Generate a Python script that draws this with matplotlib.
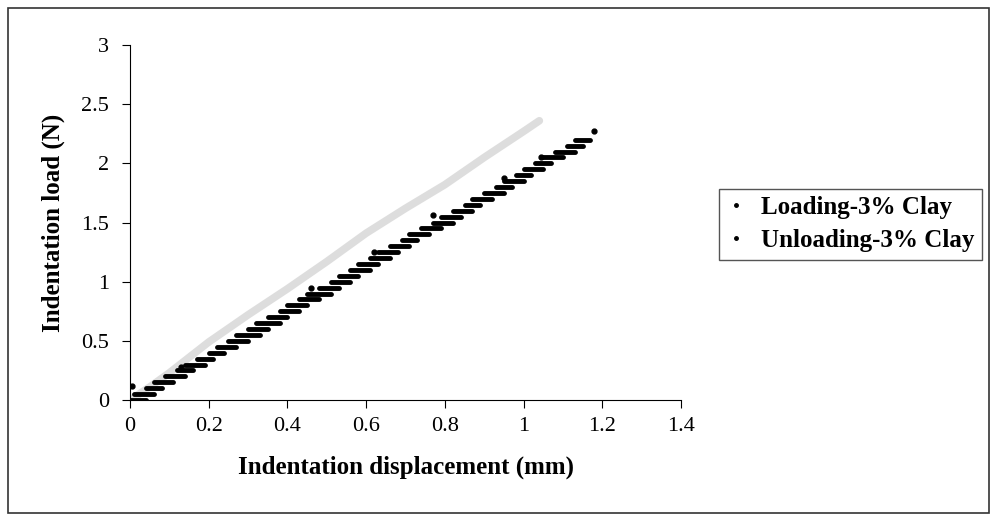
import matplotlib.pyplot as plt
from matplotlib.lines import Line2D
from matplotlib.patches import Rectangle

plt.rcParams['font.family'] = ['Liberation Serif', 'DejaVu Serif']

# Loading curve (faint grey band in the scan)
load_x = [0, 0.05, 0.1, 0.15, 0.2, 0.3, 0.4, 0.5, 0.6, 0.7, 0.8, 0.9, 1.0, 1.04]
load_y = [0, 0.11, 0.23, 0.36, 0.49, 0.72, 0.94, 1.17, 1.41, 1.62, 1.82, 2.05, 2.27, 2.36]

# Unloading data: load levels (N) with the displacement span of each step (mm)
unload_level = [0.00, 0.05, 0.10, 0.15, 0.20, 0.25, 0.30, 0.35, 0.40, 0.45,
                0.50, 0.55, 0.60, 0.65, 0.70, 0.75, 0.80, 0.85, 0.90, 0.95,
                1.00, 1.05, 1.10, 1.15, 1.20, 1.25, 1.30, 1.35, 1.40, 1.45,
                1.50, 1.55, 1.60, 1.65, 1.70, 1.75, 1.80, 1.85, 1.90, 1.95,
                2.00, 2.05, 2.10, 2.15, 2.20, 2.25]
unload_x0 = [0.00, 0.01, 0.04, 0.06, 0.09, 0.12, 0.14, 0.17, 0.20, 0.22,
             0.25, 0.27, 0.30, 0.32, 0.35, 0.38, 0.40, 0.43, 0.45, 0.48,
             0.51, 0.53, 0.56, 0.58, 0.61, 0.63, 0.66, 0.69, 0.71, 0.74,
             0.77, 0.79, 0.82, 0.85, 0.87, 0.90, 0.93, 0.95, 0.98, 1.00,
             1.03, 1.05, 1.08, 1.11, 1.13, 1.165]
unload_x1 = [0.04, 0.06, 0.08, 0.11, 0.14, 0.16, 0.19, 0.21, 0.24, 0.27,
             0.30, 0.33, 0.35, 0.38, 0.40, 0.43, 0.45, 0.48, 0.51, 0.53,
             0.56, 0.58, 0.61, 0.63, 0.66, 0.68, 0.71, 0.73, 0.76, 0.79,
             0.82, 0.84, 0.87, 0.89, 0.92, 0.95, 0.97, 1.00, 1.02, 1.05,
             1.07, 1.10, 1.13, 1.15, 1.17, 1.165]
# stray points off the steps
stray_x = [0.005, 0.13, 0.46, 0.62, 0.77, 0.95, 1.045, 1.18]
stray_y = [0.12, 0.28, 0.95, 1.25, 1.56, 1.88, 2.05, 2.27]

fig = plt.figure(figsize=(9.91, 5.21), dpi=100)
fig.patches.append(Rectangle((0.008, 0.015), 0.99, 0.97, transform=fig.transFigure,
                             fill=False, edgecolor='#333333', linewidth=1.2))

ax = fig.add_axes([0.1312, 0.2322, 0.5560, 0.6814])

ax.plot(load_x, load_y, color='#dadada', linewidth=5.5, solid_capstyle='round', alpha=0.9)

for y, x0, x1 in zip(unload_level, unload_x0, unload_x1):
    ax.plot([x0, x1], [y, y], color='black', linewidth=3.5, solid_capstyle='round')
ax.plot(stray_x, stray_y, 'o', color='black', markersize=3.5)

ax.set_xlim(0, 1.4)
ax.set_ylim(0, 3)
ax.set_xticks([0, 0.2, 0.4, 0.6, 0.8, 1, 1.2, 1.4])
ax.set_xticklabels(['0', '0.2', '0.4', '0.6', '0.8', '1', '1.2', '1.4'])
ax.set_yticks([0, 0.5, 1, 1.5, 2, 2.5, 3])
ax.set_yticklabels(['0', '0.5', '1', '1.5', '2', '2.5', '3'])
ax.spines['top'].set_visible(False)
ax.spines['right'].set_visible(False)
ax.tick_params(direction='out', length=6, labelsize=16)
ax.tick_params(axis='y', pad=9)
ax.tick_params(axis='x', pad=6)
ax.set_xlabel('Indentation displacement (mm)', fontsize=18, fontweight='bold', labelpad=14)
ax.set_ylabel('Indentation load (N)', fontsize=18, fontweight='bold', labelpad=12)

handles = [Line2D([], [], linestyle='none', marker='.', color='black', markersize=5),
           Line2D([], [], linestyle='none', marker='.', color='black', markersize=5)]
leg = fig.legend(handles, ['Loading-3% Clay', 'Unloading-3% Clay'],
                 loc='upper left', bbox_to_anchor=(0.7255, 0.638),
                 fancybox=False, edgecolor='#555555', framealpha=1,
                 prop={'size': 18, 'weight': 'bold'}, handlelength=0.8,
                 handletextpad=0.6, borderpad=0.3, labelspacing=0.4,
                 borderaxespad=0)
leg.get_frame().set_linewidth(1.0)

fig.savefig('out.png', dpi=100)
